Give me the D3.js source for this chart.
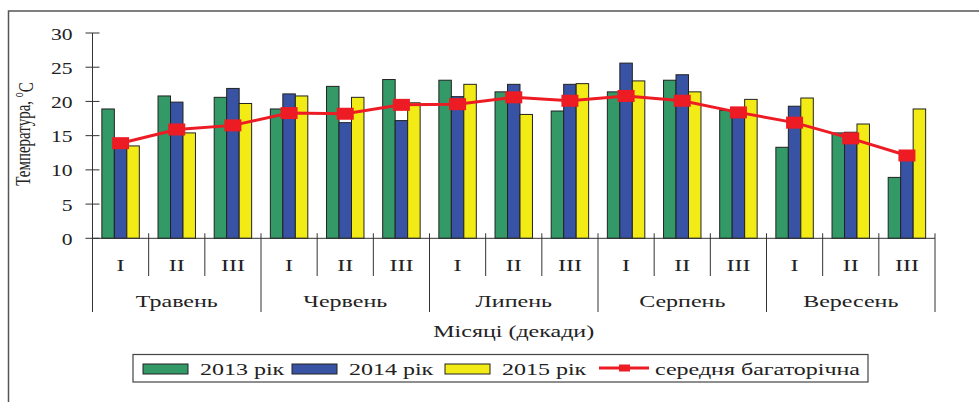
<!DOCTYPE html>
<html>
<head>
<meta charset="utf-8">
<script src="https://cdn.jsdelivr.net/npm/d3@7"></script>
<style>
  body { margin: 0; background: #fff; }
  svg { display: block; font-family: "Liberation Serif", "Times New Roman", serif; }
  text { fill: #222; }
</style>
</head>
<body>
<div id="chart"></div>
<script>
// decades of each month
const months = ['Травень', 'Червень', 'Липень', 'Серпень', 'Вересень']
const decades = ['I', 'II', 'III']
const series = ['2013 рік', '2014 рік', '2015 рік']
const values2013 = [18.9, 20.8, 20.6, 18.9, 22.2, 23.2, 23.1, 21.4, 18.6, 21.4, 23.1, 18.7, 13.3, 15.4, 8.9]
const values2014 = [13.9, 19.9, 21.9, 21.1, 16.9, 17.2, 20.7, 22.5, 22.5, 25.6, 23.9, 18.5, 19.3, 15.5, 12.0]
const values2015 = [13.5, 15.4, 19.7, 20.8, 20.6, 19.8, 22.5, 18.1, 22.6, 23.0, 21.4, 20.3, 20.5, 16.7, 18.9]
const longTerm = [13.9, 15.9, 16.5, 18.3, 18.2, 19.5, 19.6, 20.6, 20.1, 20.8, 20.1, 18.4, 16.9, 14.6, 12.1]
const lineName = 'середня багаторічна'
const yTicks = [0, 5, 10, 15, 20, 25, 30]

const colors = ['#339966', '#3953a4', '#f3eb16']
const red = '#ed1c24'
// the source picture is stretched sideways
const sxNum = 1.35
const sxWord = 1.5

const width = 979
const height = 402
const margins = {top: 33, left: 92.5, right: 44, bottom: 164}

const svg = d3.select('#chart').append('svg')
  .attr('width', width)
  .attr('height', height)

// outer frame
svg.append('rect')
  .attr('x', 8.5).attr('y', 11)
  .attr('width', 1000).attr('height', 420)
  .attr('fill', 'none')
  .attr('stroke', '#555')
  .attr('stroke-width', 1.5)

const cats = []
months.forEach(m => decades.forEach(d => cats.push(m + '|' + d)))

const x = d3.scaleBand()
  .domain(cats)
  .range([margins.left, width - margins.right])
  .padding(0)
const xs = d3.scaleBand()
  .domain(series)
  .range([0, x.bandwidth()])
  .paddingInner(0)
  .paddingOuter(0.75)
const y = d3.scaleLinear()
  .domain([0, 30])
  .range([height - margins.bottom + 0.3, margins.top])

const y0 = y(0)

function label (parent, px, py, str, anchor, sx) {
  return parent.append('text')
    .attr('transform', 'translate(' + px + ',' + py + ') scale(' + (sx || sxWord) + ',1)')
    .attr('text-anchor', anchor || 'middle')
    .attr('dy', '0.35em')
    .style('font-size', '16px')
    .text(str)
}

// bars
const barsG = svg.append('g').classed('bars', true)
const allSeries = [values2013, values2014, values2015]
allSeries.forEach((vals, si) => {
  barsG.selectAll('rect.s' + si)
    .data(vals)
    .enter()
    .append('rect')
      .attr('class', 's' + si)
      .attr('x', (d, i) => x(cats[i]) + xs(series[si]))
      .attr('y', d => y(d))
      .attr('width', xs.bandwidth())
      .attr('height', d => y0 - y(d))
      .attr('fill', colors[si])
      .attr('stroke', '#222')
      .attr('stroke-width', 1)
})

// y axis
const axisG = svg.append('g').classed('axes', true)
axisG.append('line')
  .attr('x1', margins.left).attr('x2', margins.left)
  .attr('y1', y(30)).attr('y2', 312)
  .attr('stroke', '#333')
yTicks.forEach(t => {
  axisG.append('line')
    .attr('x1', margins.left - 7).attr('x2', margins.left + 7)
    .attr('y1', y(t)).attr('y2', y(t))
    .attr('stroke', '#333')
  label(axisG, margins.left - 20, y(t) + 1, t, 'end', sxNum)
})

// x axis with decade and month separators
axisG.append('line')
  .attr('x1', margins.left).attr('x2', width - margins.right)
  .attr('y1', y0).attr('y2', y0)
  .attr('stroke', '#333')
cats.forEach((c, i) => {
  const bx = x(c) + x.bandwidth()
  axisG.append('line')
    .attr('x1', bx).attr('x2', bx)
    .attr('y1', y0 - 5).attr('y2', (i + 1) % 3 === 0 ? 312 : 276)
    .attr('stroke', '#333')
  label(axisG, x(c) + x.bandwidth() / 2, 265, c.split('|')[1], 'middle')
})
months.forEach(m => {
  const mx = (x(m + '|I') + x(m + '|III') + x.bandwidth()) / 2
  label(axisG, mx, 301, m, 'middle')
})
label(axisG, (margins.left + width - margins.right) / 2, 331, 'Місяці (декади)', 'middle')

// y label
const yl = axisG.append('text')
  .attr('transform', 'translate(30,134) scale(1.45,1) rotate(-90)')
  .attr('text-anchor', 'middle')
  .style('font-size', '15px')
yl.append('tspan').text('Температура, ')
yl.append('tspan').attr('dy', '-0.45em').style('font-size', '10px').text('о')
yl.append('tspan').attr('dy', '0.45em').text('С')

// long-term mean line
const lineG = svg.append('g').classed('line', true)
const cx = i => x(cats[i]) + x.bandwidth() / 2
lineG.append('path')
  .datum(longTerm)
  .attr('d', d3.line().x((d, i) => cx(i)).y(d => y(d)))
  .attr('fill', 'none')
  .attr('stroke', red)
  .attr('stroke-width', 3)
lineG.selectAll('rect')
  .data(longTerm)
  .enter()
  .append('rect')
    .attr('x', (d, i) => cx(i) - 8.5)
    .attr('y', d => y(d) - 6)
    .attr('width', 17)
    .attr('height', 12)
    .attr('fill', red)

// legend
const lg = svg.append('g').classed('legend', true)
lg.append('rect')
  .attr('x', 133).attr('y', 354.5)
  .attr('width', 735).attr('height', 27.5)
  .attr('fill', '#fff')
  .attr('stroke', '#444')
  .attr('stroke-width', 1.2)
const swatchX = [143, 292, 445]
series.forEach((s, i) => {
  lg.append('rect')
    .attr('x', swatchX[i]).attr('y', 364)
    .attr('width', 45).attr('height', 10)
    .attr('fill', colors[i])
    .attr('stroke', '#222')
  label(lg, swatchX[i] + 57, 369, s, 'start')
})
lg.append('line')
  .attr('x1', 599).attr('x2', 649)
  .attr('y1', 368).attr('y2', 368)
  .attr('stroke', red)
  .attr('stroke-width', 3)
lg.append('rect')
  .attr('x', 619).attr('y', 364.5)
  .attr('width', 11).attr('height', 7)
  .attr('fill', red)
label(lg, 655, 369, lineName, 'start')
</script>
</body>
</html>
